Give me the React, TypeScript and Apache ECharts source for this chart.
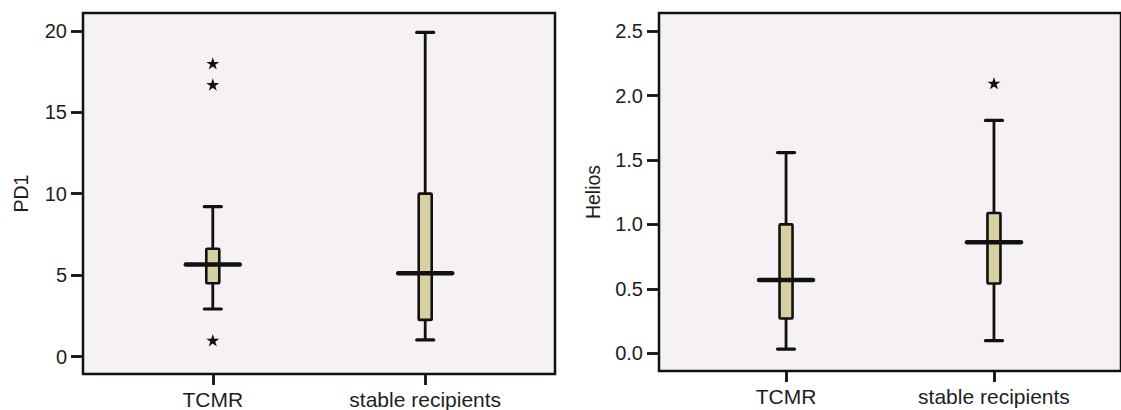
import React, { useEffect, useRef } from "react";
import * as echarts from "echarts";

// ---- data ----
const categories = ["TCMR", "stable recipients"];
// [categoryIndex, low whisker, Q1, median, Q3, high whisker]
const pd1Box = [
  [0, 2.92, 4.5, 5.65, 6.62, 9.2],
  [1, 1.02, 2.25, 5.12, 10.0, 19.9],
];
const pd1Outliers = [
  [0, 18.0],
  [0, 16.7],
  [0, 1.0],
];
const heliosBox = [
  [0, 0.033, 0.27, 0.568, 1.0, 1.557],
  [1, 0.098, 0.542, 0.862, 1.089, 1.807],
];
const heliosOutliers = [[1, 2.096]];
const pd1Ticks = [0, 5, 10, 15, 20];
const heliosTicks = [0, 0.5, 1.0, 1.5, 2.0, 2.5];

const FONT = "'Liberation Sans', Arial, sans-serif";
const TEXT = "#1e1e1e";
const INK = "#111111";
const STAR =
  "path://M0,-1 L0.2245,-0.309 L0.951,-0.309 L0.363,0.118 L0.588,0.809 L0,0.382 L-0.588,0.809 L-0.363,0.118 L-0.951,-0.309 L-0.2245,-0.309 Z";

function renderBox(params: any, api: any) {
  const x = api.value(0);
  const low = api.coord([x, api.value(1)]);
  const q1 = api.coord([x, api.value(2)]);
  const med = api.coord([x, api.value(3)]);
  const q3 = api.coord([x, api.value(4)]);
  const high = api.coord([x, api.value(5)]);
  const cx = low[0];
  const boxW = 13;
  const capW = 17;
  const medW = 54;
  return {
    type: "group",
    children: [
      {
        type: "line",
        shape: { x1: cx, y1: low[1], x2: cx, y2: high[1] },
        style: { stroke: INK, lineWidth: 2.8 },
      },
      {
        type: "line",
        shape: { x1: cx - capW / 2, y1: low[1], x2: cx + capW / 2, y2: low[1] },
        style: { stroke: INK, lineWidth: 3.2, lineCap: "round" },
      },
      {
        type: "line",
        shape: { x1: cx - capW / 2, y1: high[1], x2: cx + capW / 2, y2: high[1] },
        style: { stroke: INK, lineWidth: 3.2, lineCap: "round" },
      },
      {
        type: "rect",
        shape: { x: cx - boxW / 2, y: q3[1], width: boxW, height: q1[1] - q3[1], r: 1 },
        style: { fill: "#d7d1a1", stroke: INK, lineWidth: 2.6 },
      },
      {
        type: "line",
        shape: { x1: cx - medW / 2, y1: med[1], x2: cx + medW / 2, y2: med[1] },
        style: { stroke: INK, lineWidth: 4.5, lineCap: "round" },
      },
    ],
  };
}

function makeXAxis(gridIndex: number) {
  return {
    type: "value",
    gridIndex,
    min: -0.611,
    max: 1.611,
    axisLine: { show: false, onZero: false },
    splitLine: { show: false },
    axisTick: {
      show: true,
      customValues: [0, 1],
      length: 11,
      lineStyle: { color: INK, width: 2.8 },
    },
    axisLabel: {
      customValues: [0, 1],
      formatter: (v: number) => categories[Math.round(v)] ?? "",
      margin: 15,
      fontSize: 21,
      fontFamily: FONT,
      color: TEXT,
    },
  };
}

function makeYAxis(
  gridIndex: number,
  min: number,
  max: number,
  ticks: number[],
  name: string,
  nameGap: number,
  decimals: number
) {
  return {
    type: "value",
    gridIndex,
    min,
    max,
    name,
    nameLocation: "middle",
    nameGap,
    nameRotate: 90,
    nameTextStyle: { fontSize: 19.5, fontFamily: FONT, color: TEXT },
    axisLine: { show: false, onZero: false },
    splitLine: { show: false },
    axisTick: {
      show: true,
      customValues: ticks,
      length: 12,
      lineStyle: { color: INK, width: 2.8 },
    },
    axisLabel: {
      customValues: ticks,
      formatter: (v: number) => v.toFixed(decimals),
      margin: 16,
      fontSize: 20,
      fontFamily: FONT,
      color: TEXT,
    },
  };
}

export default function App() {
  const ref = useRef<HTMLDivElement>(null);
  useEffect(() => {
    if (!ref.current) return;
    const chart = echarts.init(ref.current, null, { renderer: "svg" });
    const gridStyle = {
      show: true,
      backgroundColor: "#f5f1f4",
      borderColor: INK,
      borderWidth: 2.5,
    };
    chart.setOption({
      animation: false,
      backgroundColor: "#ffffff",
      grid: [
        { ...gridStyle, left: 83, top: 13, width: 472, height: 361 },
        { ...gridStyle, left: 659, top: 13, width: 472, height: 358 },
      ],
      xAxis: [makeXAxis(0), makeXAxis(1)],
      yAxis: [
        makeYAxis(0, -1.07, 21.09, pd1Ticks, "PD1", 52, 0),
        makeYAxis(1, -0.137, 2.64, heliosTicks, "Helios", 56, 1),
      ],
      series: [
        {
          type: "custom",
          xAxisIndex: 0,
          yAxisIndex: 0,
          renderItem: renderBox,
          encode: { x: 0, y: [1, 2, 3, 4, 5] },
          data: pd1Box,
          z: 2,
        },
        {
          type: "scatter",
          xAxisIndex: 0,
          yAxisIndex: 0,
          symbol: STAR,
          symbolSize: 13,
          symbolKeepAspect: true,
          itemStyle: { color: INK, opacity: 1 },
          data: pd1Outliers,
          z: 3,
        },
        {
          type: "custom",
          xAxisIndex: 1,
          yAxisIndex: 1,
          renderItem: renderBox,
          encode: { x: 0, y: [1, 2, 3, 4, 5] },
          data: heliosBox,
          z: 2,
        },
        {
          type: "scatter",
          xAxisIndex: 1,
          yAxisIndex: 1,
          symbol: STAR,
          symbolSize: 13,
          symbolKeepAspect: true,
          itemStyle: { color: INK, opacity: 1 },
          data: heliosOutliers,
          z: 3,
        },
      ],
    });
    return () => chart.dispose();
  }, []);
  return (
    <div
      ref={ref}
      style={{ position: "fixed", left: 0, top: 0, width: 1121, height: 410 }}
    />
  );
}
